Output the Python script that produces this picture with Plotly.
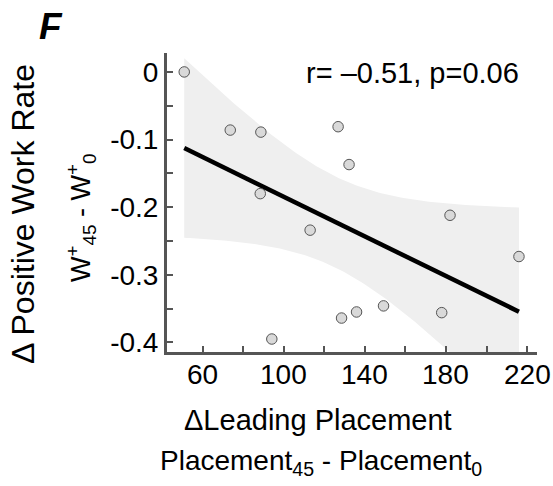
import numpy as np
import plotly.graph_objects as go

# Data
placement_delta = [50.9, 73.6, 88.7, 88.4, 94.1, 113.0, 126.8, 132.2, 128.5, 135.9, 149.2, 177.9, 182.0, 216.0]
work_delta = [0.0, -0.086, -0.089, -0.180, -0.395, -0.234, -0.081, -0.137, -0.364, -0.355, -0.346, -0.356, -0.212, -0.273]
x_ticks = [60, 80, 100, 120, 140, 160, 180, 200, 220]
x_ticklabels = ["60", "", "100", "", "140", "", "180", "", "220"]
y_ticks = [0, -0.05, -0.1, -0.15, -0.2, -0.25, -0.3, -0.35, -0.4]
y_ticklabels = ["0", "", "-0.1", "", "-0.2", "", "-0.3", "", "-0.4"]
stat_text = "r= \u20130.51, p=0.06"

x = np.array(placement_delta)
y = np.array(work_delta)
n = len(x)
slope, intercept = np.polyfit(x, y, 1)
xx = np.linspace(x.min(), x.max(), 120)
yy = slope * xx + intercept
resid = y - (slope * x + intercept)
s = np.sqrt(np.sum(resid ** 2) / (n - 2))
sxx = np.sum((x - x.mean()) ** 2)
t_crit = 2.179  # t(0.975, df=12)
half = t_crit * s * np.sqrt(1.0 / n + (xx - x.mean()) ** 2 / sxx)

FONT = "Liberation Sans, Arial, Helvetica, sans-serif"
AX = "#555555"

fig = go.Figure()
fig.add_trace(go.Scatter(
    x=np.concatenate([xx, xx[::-1]]),
    y=np.concatenate([yy + half, (yy - half)[::-1]]),
    fill="toself", fillcolor="#efefef", line=dict(width=0),
    mode="lines", hoverinfo="skip", showlegend=False))
fig.add_trace(go.Scatter(x=xx, y=yy, mode="lines",
                         line=dict(color="black", width=4.5), showlegend=False))
fig.add_trace(go.Scatter(x=x, y=y, mode="markers",
                         marker=dict(size=10.5, color="#d9d9d9",
                                     line=dict(color="#555555", width=1)),
                         showlegend=False))

L, R, T, B = 167, 16, 53, 134
W, H = 553, 486
pw = W - L - R
ph = H - T - B

def px(xp):
    return (xp - L) / pw

def py(yp):
    return (H - B - yp) / ph

annotations = [
    dict(text="<b><i>F</i></b>", x=px(51), y=py(26), xref="paper", yref="paper",
         showarrow=False, font=dict(size=37, family=FONT), xanchor="center", yanchor="middle"),
    dict(text=stat_text, x=px(521), y=py(73), xref="paper", yref="paper",
         showarrow=False, font=dict(size=29, family=FONT), xanchor="right", yanchor="middle"),
    dict(text="\u0394Leading Placement", x=px(318), y=py(420), xref="paper", yref="paper",
         showarrow=False, font=dict(size=29, family=FONT), xanchor="center", yanchor="middle"),
    dict(text="Placement<sub>45</sub> - Placement<sub>0</sub>", x=px(321), y=py(462),
         xref="paper", yref="paper", showarrow=False,
         font=dict(size=28, family=FONT), xanchor="center", yanchor="middle"),
    dict(text="\u0394 Positive Work Rate", x=px(23), y=py(214), xref="paper", yref="paper",
         showarrow=False, textangle=-90, font=dict(size=32, family=FONT),
         xanchor="center", yanchor="middle"),
    dict(text="W<sup>+</sup><sub>45</sub> - W<sup>+</sup><sub>0</sub>", x=px(81), y=py(218),
         xref="paper", yref="paper", showarrow=False, textangle=-90,
         font=dict(size=27, family=FONT), xanchor="center", yanchor="middle"),
]
# x tick labels placed on the x data scale
for tv, tt in zip(x_ticks, x_ticklabels):
    if tt:
        annotations.append(dict(text=tt, x=tv, xref="x", y=py(374), yref="paper",
                                showarrow=False, font=dict(size=28, family=FONT),
                                xanchor="center", yanchor="middle"))

fig.update_layout(
    width=W, height=H,
    margin=dict(l=L, r=R, t=T, b=B),
    paper_bgcolor="white", plot_bgcolor="white",
    font=dict(family=FONT, size=28, color="black"),
    xaxis=dict(range=[42.4, 224.9], showgrid=False, zeroline=False,
               showline=True, linecolor=AX, linewidth=3,
               ticks="inside", ticklen=6, tickwidth=2, tickcolor=AX,
               tickvals=x_ticks, showticklabels=False),
    yaxis=dict(range=[-0.4142, 0.028], showgrid=False, zeroline=False,
               showline=True, linecolor=AX, linewidth=3,
               ticks="inside", ticklen=6, tickwidth=2, tickcolor=AX,
               tickvals=y_ticks, ticktext=y_ticklabels,
               tickfont=dict(size=28, family=FONT)),
    annotations=annotations,
)

fig.write_html("out.html")
